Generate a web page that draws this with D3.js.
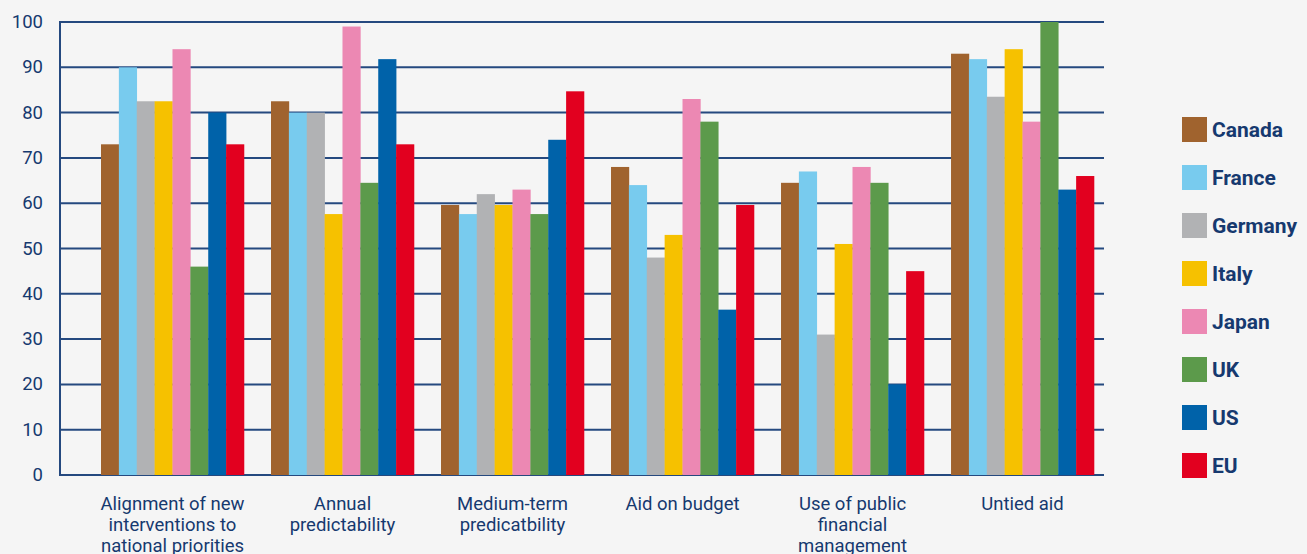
<!DOCTYPE html>
<html>
<head>
<meta charset="utf-8">
<title>Aid quality by donor</title>
<script src="https://cdn.jsdelivr.net/npm/d3@7"></script>
<style>
body{margin:0;background:#f5f5f5;}
.chart text{font-family:Roboto,"Liberation Sans",sans-serif;fill:#16396f;}
.chart .legend text{font-weight:bold;}
</style>
</head>
<body>
<svg class="chart"></svg>
<script>
var width=1307,height=554;

// data
var categories=[
  ["Alignment of new","interventions to","national priorities"],
  ["Annual","predictability"],
  ["Medium-term","predicatbility"],
  ["Aid on budget"],
  ["Use of public","financial","management"],
  ["Untied aid"]
];
var donors=["Canada","France","Germany","Italy","Japan","UK","US","EU"];
var colors=["#a0632e","#78cbee","#b1b2b4","#f6c100","#ec88b3","#5c9a4b","#0062a9","#e2001f"];
var canada=[73,82.5,59.6,68,64.5,93];
var france=[90,80,57.6,64,67,91.8];
var germany=[82.5,80,62,48,31,83.5];
var italy=[82.5,57.6,59.6,53,51,94];
var japan=[94,99,63,83,68,78];
var uk=[46,64.5,57.6,78,64.5,100];
var us=[80,91.8,74,36.5,20,63];
var eu=[73,73,84.7,59.6,45,66];
var series=[canada,france,germany,italy,japan,uk,us,eu];
var yTicks=[0,10,20,30,40,50,60,70,80,90,100];

var plotLeft=60,plotRight=1104,plotTop=22,plotBottom=475;

var chart=d3.select(".chart").attr("width",width).attr("height",height);

var y=d3.scaleLinear().domain([0,100]).range([plotBottom,plotTop]);
var x0=d3.scaleBand().domain(d3.range(categories.length)).range([101,1094]).paddingInner(0.159).paddingOuter(0);
var x1=d3.scaleBand().domain(d3.range(donors.length)).range([0,x0.bandwidth()]);

// grid lines
chart.append("g").selectAll("line").data(yTicks).enter().append("line")
  .attr("x1",plotLeft).attr("x2",plotRight)
  .attr("y1",function(d){return y(d);}).attr("y2",function(d){return y(d);})
  .attr("stroke","#25497f").attr("stroke-width",2);

chart.append("line").attr("x1",plotLeft).attr("x2",plotLeft)
  .attr("y1",plotTop-1).attr("y2",plotBottom+1)
  .attr("stroke","#25497f").attr("stroke-width",2);

// y tick labels
chart.append("g").selectAll("text").data(yTicks).enter().append("text")
  .attr("x",43).attr("y",function(d){return y(d)+6;})
  .attr("text-anchor","end").attr("font-size","18.5px")
  .text(function(d){return d;});

// bars
var groups=chart.append("g").selectAll("g").data(categories).enter().append("g")
  .attr("transform",function(d,i){return "translate("+x0(i)+",0)";});

groups.selectAll("rect").data(function(d,i){return series.map(function(s,j){return {v:s[i],j:j};});})
  .enter().append("rect")
  .attr("x",function(d){return x1(d.j);})
  .attr("width",x1.bandwidth()+0.3)
  .attr("y",function(d){return y(d.v);})
  .attr("height",function(d){return plotBottom-y(d.v);})
  .attr("fill",function(d){return colors[d.j];});

// category labels
groups.append("text")
  .attr("text-anchor","middle").attr("font-size","18.5px")
  .attr("transform","translate("+(x0.bandwidth()/2)+","+510+")")
  .selectAll("tspan").data(function(d){return d;}).enter().append("tspan")
  .attr("x",0).attr("y",function(d,i){return i*21;})
  .text(function(d){return d;});

// legend
var legend=chart.append("g").attr("class","legend").selectAll("g").data(donors).enter().append("g")
  .attr("transform",function(d,i){return "translate(1182,"+(117+i*48)+")";});
legend.append("rect").attr("width",25).attr("height",25)
  .attr("fill",function(d,i){return colors[i];});
legend.append("text").attr("x",30).attr("y",20).attr("font-size","21px")
  .text(function(d){return d;});
</script>
</body>
</html>
